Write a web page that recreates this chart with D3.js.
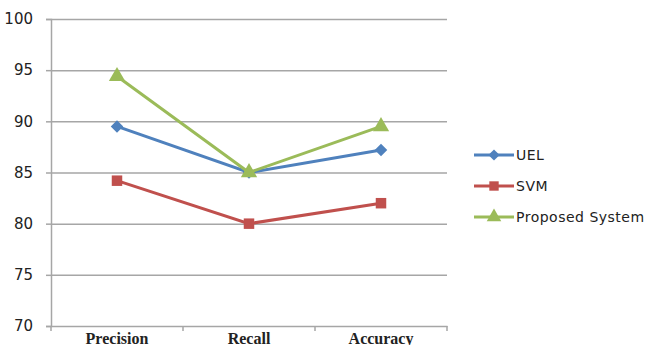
<!DOCTYPE html>
<html>
<head>
<meta charset="utf-8">
<script src="https://cdn.jsdelivr.net/npm/d3@7"></script>
<style>
body { margin: 0; background: #fff; }
</style>
</head>
<body>
<div id="chart"></div>
<script>
var categories = ['Precision', 'Recall', 'Accuracy'];
var seriesNames = ['UEL', 'SVM', 'Proposed System'];
var uelValues = [89.5, 85, 87.2];
var svmValues = [84.2, 80, 82];
var proposedValues = [94.4, 85, 89.5];
var yTicks = [70, 75, 80, 85, 90, 95, 100];

var colors = ['#4f81bd', '#c0504d', '#9bbb59'];
var symbols = [d3.symbolDiamond2, d3.symbolSquare, d3.symbolTriangle];
var symbolSizes = [100, 110, 115];

var series = [uelValues, svmValues, proposedValues].map(function(vals, i){
    return { name: seriesNames[i], values: vals, color: colors[i], symbol: symbols[i], size: symbolSizes[i] };
});

var svg = d3.select('#chart')
    .append('svg')
    .attr('width', 646)
    .attr('height', 345);

// plot area edges (note: "top" is reserved on window)
var plotLeft = 51, plotRight = 447, plotTop = 19, plotBottom = 326;

var x = d3.scaleBand()
    .domain(categories)
    .range([plotLeft, plotRight]);

var y = d3.scaleLinear()
    .domain([70, 100])
    .range([plotBottom, plotTop]);

//Gridlines
svg.append('g')
    .selectAll('line')
    .data(yTicks.slice(1))
    .enter()
    .append('line')
    .attr('x1', plotLeft)
    .attr('x2', plotRight)
    .attr('y1', function(d){ return y(d) + 0.5; })
    .attr('y2', function(d){ return y(d) + 0.5; })
    .style('stroke', '#a6a6a6')
    .style('stroke-width', 1.5);

//Y axis
var yAxis = svg.append('g')
    .attr('transform', 'translate(' + plotLeft + ',0)')
    .call(d3.axisLeft(y).tickValues(yTicks).tickSize(5).tickPadding(13));
yAxis.select('.domain').style('stroke', '#a6a6a6').style('stroke-width', 1.5);
yAxis.selectAll('.tick line').style('stroke', '#a6a6a6').style('stroke-width', 1.5);
yAxis.selectAll('text')
    .style('font-family', 'Verdana, "DejaVu Sans", sans-serif')
    .style('font-size', '15px')
    .style('fill', '#222');

//X axis
var xAxis = svg.append('g')
    .attr('transform', 'translate(0,' + plotBottom + ')')
    .call(d3.axisBottom(x).tickSize(0).tickPadding(7));
xAxis.select('.domain').style('stroke', '#a6a6a6').style('stroke-width', 1.5);
xAxis.selectAll('text')
    .style('font-family', '"Liberation Serif", "Times New Roman", serif')
    .style('font-size', '16px')
    .style('font-weight', 'bold')
    .style('fill', '#222');

//Category boundary ticks
var bounds = [plotLeft].concat(categories.map(function(c){ return x(c) + x.bandwidth(); }));
svg.append('g')
    .selectAll('line')
    .data(bounds)
    .enter()
    .append('line')
    .attr('x1', function(d){ return d; })
    .attr('x2', function(d){ return d; })
    .attr('y1', plotBottom)
    .attr('y2', plotBottom + 5)
    .style('stroke', '#a6a6a6')
    .style('stroke-width', 1.5);

var line = d3.line()
    .x(function(d, i){ return x(categories[i]) + x.bandwidth() / 2; })
    .y(function(d){ return y(d); });

var groups = svg.selectAll('.series')
    .data(series)
    .enter()
    .append('g')
    .attr('class', 'series');

groups.append('path')
    .attr('d', function(d){ return line(d.values); })
    .style('fill', 'none')
    .style('stroke', function(d){ return d.color; })
    .style('stroke-width', 3);

groups.each(function(s){
    d3.select(this).selectAll('.pt')
        .data(s.values)
        .enter()
        .append('path')
        .attr('class', 'pt')
        .attr('transform', function(d, i){
            return 'translate(' + (x(categories[i]) + x.bandwidth() / 2) + ',' + y(d) + ')';
        })
        .attr('d', d3.symbol().type(s.symbol).size(s.size))
        .style('fill', s.color);
});

//Legend
var legend = svg.append('g')
    .selectAll('g')
    .data(series)
    .enter()
    .append('g')
    .attr('transform', function(d, i){ return 'translate(474,' + (155 + i * 31) + ')'; });

legend.append('line')
    .attr('x1', 0)
    .attr('x2', 40)
    .style('stroke', function(d){ return d.color; })
    .style('stroke-width', 3);

legend.append('path')
    .attr('transform', 'translate(20,0)')
    .attr('d', function(d){ return d3.symbol().type(d.symbol).size(d.size * 0.8)(); })
    .style('fill', function(d){ return d.color; });

legend.append('text')
    .attr('x', 42)
    .attr('dy', '0.35em')
    .text(function(d){ return d.name; })
    .style('font-family', 'Verdana, "DejaVu Sans", sans-serif')
    .style('font-size', '14px')
    .style('letter-spacing', '0.5px')
    .style('fill', '#222');
</script>
</body>
</html>
